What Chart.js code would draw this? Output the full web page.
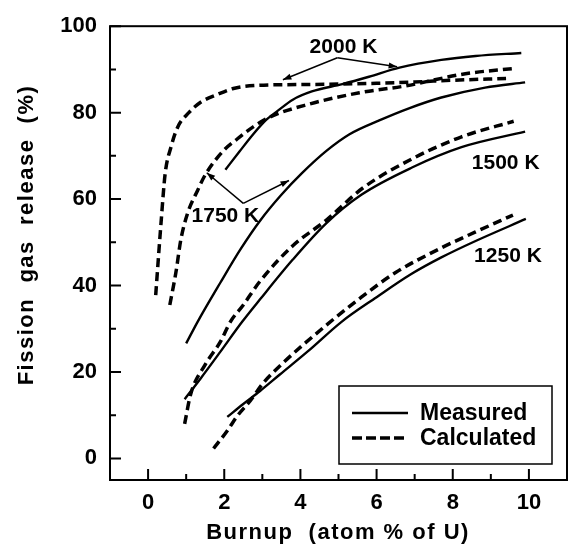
<!DOCTYPE html>
<html>
<head>
<meta charset="utf-8">
<script src="https://cdn.jsdelivr.net/npm/chart.js@4.4.1/dist/chart.umd.min.js"></script>
<style>
  html, body { margin: 0; padding: 0; background: #fff; }
  #wrap { width: 572px; height: 548px; }
</style>
</head>
<body>
<div id="wrap"><canvas id="chart" width="572" height="548"></canvas></div>
<script>
// [burnup (atom % of U), fission gas release (%)]
const measured2000 = [[2.03,66.8],[2.4,71],[2.76,75],[3.1,78.3],[3.4,80.4],[3.8,83],[4.3,84.9],[5.1,86.6],[5.8,88.3],[6.6,90.4],[7.7,92.2],[8.6,93.1],[9.8,93.8]];
const calculated2000 = [[0.2,37.8],[0.34,54.5],[0.45,66],[0.6,72],[0.78,76.7],[1.07,80],[1.38,82.4],[1.82,84.2],[2.24,85.6],[2.86,86.3],[4,86.5],[5,86.6],[6,86.8],[7,87.1],[8,87.5],[9.4,87.9]];
const measured1750 = [[1,26.6],[1.3,31.6],[1.9,40.7],[2.42,48.3],[2.94,55],[3.5,61],[4.04,66],[4.69,71.2],[5.29,75],[6.07,78.2],[6.85,81],[7.7,83.5],[8.85,85.8],[9.9,87]];
const calculated1750 = [[0.57,35.5],[0.73,43],[0.86,50.6],[1.04,56.8],[1.3,62],[1.5,65.6],[1.98,71.2],[2.34,73.9],[2.76,76.7],[3.2,79],[4.24,82],[5.55,84.6],[6.77,86.2],[8.33,89],[9.58,90.2]];
const measured1500 = [[0.96,13.7],[1.38,18.5],[1.9,24.7],[2.47,31.6],[2.94,36.8],[3.8,46],[4.69,54.5],[5.6,61],[6.93,67.3],[8.23,72],[9.9,75.6]];
const calculated1500 = [[0.96,8],[1.12,14.9],[1.5,21.7],[1.9,27],[2.16,31.6],[2.5,35.5],[2.94,41],[3.8,49.2],[4.69,55.2],[5.63,62.5],[6.93,69.3],[8.23,74.4],[9.6,78]];
const measured1250 = [[2.08,9.6],[2.5,12.6],[2.94,15.6],[3.46,19.4],[4.2,24.8],[5.08,31.6],[6,37.3],[6.9,42.6],[7.7,46.5],[8.6,50.3],[9.92,55.4]];
const calculated1250 = [[1.72,2.3],[2.08,6.4],[2.34,9.8],[2.68,13.3],[3.02,17.4],[3.46,21.4],[4.69,30.9],[5.6,37.3],[6.5,43],[7.7,48.7],[8.6,52.4],[9.58,56.3]];

const xTicks = [0, 2, 4, 6, 8, 10];
const xMinorTicks = [1, 3, 5, 7, 9];
const yTicks = [0, 20, 40, 60, 80, 100];
const yMinorTicks = [10, 30, 50, 70, 90];

const legendLabels = ['Measured', 'Calculated'];
const xTitle = 'Burnup  (atom % of U)';
const yTitle = 'Fission  gas  release  (%)';

// temperature labels and their pointer lines, in data units
const curveLabels = [
    { text: '2000 K', x: 5.13, y: 95.1 },
    { text: '1750 K', x: 2.03, y: 56.0 },
    { text: '1500 K', x: 9.39, y: 68.2 },
    { text: '1250 K', x: 9.45, y: 46.7 }
];
const pointers = [
    { from: [4.97, 92.7], to: [3.54, 87.6] },
    { from: [4.97, 92.7], to: [6.54, 90.6] },
    { from: [2.5, 59.0], to: [1.54, 66.1] },
    { from: [2.5, 59.0], to: [3.7, 64.3] }
];

const toPoints = arr => arr.map(p => ({ x: p[0], y: p[1] }));

function series(data, dashed) {
    return {
        data: toPoints(data),
        showLine: true,
        borderColor: '#000',
        borderWidth: dashed ? 3.5 : 2.4,
        borderDash: dashed ? [9, 5] : [],
        pointRadius: 0,
        fill: false,
        cubicInterpolationMode: 'monotone'
    };
}

// frame, inward ticks, titles, labels and legend
const decorations = {
    id: 'decorations',
    afterDraw(chart) {
        const { ctx, chartArea: a, scales: { x, y } } = chart;
        ctx.save();
        ctx.strokeStyle = '#000';
        ctx.fillStyle = '#000';
        ctx.lineWidth = 2;
        ctx.strokeRect(a.left, a.top, a.right - a.left, a.bottom - a.top);

        ctx.beginPath();
        xTicks.forEach(v => { const px = x.getPixelForValue(v); ctx.moveTo(px, a.bottom); ctx.lineTo(px, a.bottom - 11); });
        xMinorTicks.forEach(v => { const px = x.getPixelForValue(v); ctx.moveTo(px, a.bottom); ctx.lineTo(px, a.bottom - 6); });
        yTicks.forEach(v => { const py = y.getPixelForValue(v); ctx.moveTo(a.left, py); ctx.lineTo(a.left + 11, py); });
        yMinorTicks.forEach(v => { const py = y.getPixelForValue(v); ctx.moveTo(a.left, py); ctx.lineTo(a.left + 6, py); });
        ctx.stroke();

        // axis titles
        ctx.font = 'bold 22px "Liberation Sans", Arial, sans-serif';
        ctx.letterSpacing = '1.5px';
        ctx.textAlign = 'center';
        ctx.textBaseline = 'alphabetic';
        ctx.fillText(xTitle, 338, 539);
        ctx.save();
        ctx.translate(33, 235);
        ctx.rotate(-Math.PI / 2);
        ctx.fillText(yTitle, 0, 0);
        ctx.restore();
        ctx.letterSpacing = '0px';

        // temperature labels
        ctx.font = 'bold 21px "Liberation Sans", Arial, sans-serif';
        ctx.textBaseline = 'middle';
        curveLabels.forEach(l => ctx.fillText(l.text, x.getPixelForValue(l.x), y.getPixelForValue(l.y)));

        // pointer lines with arrow heads
        ctx.lineWidth = 1.5;
        pointers.forEach(p => {
            const x0 = x.getPixelForValue(p.from[0]), y0 = y.getPixelForValue(p.from[1]);
            const x1 = x.getPixelForValue(p.to[0]), y1 = y.getPixelForValue(p.to[1]);
            ctx.beginPath();
            ctx.moveTo(x0, y0);
            ctx.lineTo(x1, y1);
            ctx.stroke();
            const ang = Math.atan2(y1 - y0, x1 - x0);
            ctx.beginPath();
            ctx.moveTo(x1, y1);
            ctx.lineTo(x1 - 9 * Math.cos(ang - 0.35), y1 - 9 * Math.sin(ang - 0.35));
            ctx.lineTo(x1 - 9 * Math.cos(ang + 0.35), y1 - 9 * Math.sin(ang + 0.35));
            ctx.closePath();
            ctx.fill();
        });

        // legend box
        const bx = a.right - 228, by = a.bottom - 94, bw = 213, bh = 78;
        ctx.lineWidth = 1.5;
        ctx.strokeRect(bx, by, bw, bh);
        ctx.font = 'bold 23px "Liberation Sans", Arial, sans-serif';
        ctx.textAlign = 'left';
        legendLabels.forEach((label, i) => {
            const ly = by + 27 + i * 25;
            ctx.beginPath();
            ctx.lineWidth = i === 0 ? 2.4 : 3.5;
            ctx.setLineDash(i === 0 ? [] : [10, 4]);
            ctx.moveTo(bx + 13, ly);
            ctx.lineTo(bx + 69, ly);
            ctx.stroke();
            ctx.setLineDash([]);
            ctx.fillText(label, bx + 81, ly + 1);
        });
        ctx.restore();
    }
};

new Chart(document.getElementById('chart'), {
    type: 'scatter',
    data: {
        datasets: [
            series(measured2000, false),
            series(calculated2000, true),
            series(measured1750, false),
            series(calculated1750, true),
            series(measured1500, false),
            series(calculated1500, true),
            series(measured1250, false),
            series(calculated1250, true)
        ]
    },
    options: {
        responsive: false,
        animation: false,
        devicePixelRatio: 1,
        layout: { padding: { top: 21, right: 5, left: 0, bottom: 0 } },
        plugins: {
            legend: { display: false },
            tooltip: { enabled: false }
        },
        scales: {
            x: {
                type: 'linear',
                min: -1,
                max: 11,
                afterBuildTicks: scale => { scale.ticks = xTicks.map(v => ({ value: v })); },
                afterFit: scale => { scale.height = 68; },
                grid: { display: false, drawTicks: false },
                border: { display: false },
                ticks: {
                    color: '#000',
                    padding: 10,
                    maxRotation: 0,
                    font: { family: '"Liberation Sans", Arial, sans-serif', size: 22, weight: 'bold' }
                }
            },
            y: {
                type: 'linear',
                min: -5,
                max: 100,
                afterBuildTicks: scale => { scale.ticks = yTicks.map(v => ({ value: v })); },
                afterFit: scale => { scale.width = 110; },
                grid: { display: false, drawTicks: false },
                border: { display: false },
                ticks: {
                    color: '#000',
                    padding: 13,
                    font: { family: '"Liberation Sans", Arial, sans-serif', size: 22, weight: 'bold' }
                }
            }
        }
    },
    plugins: [decorations]
});
</script>
</body>
</html>
